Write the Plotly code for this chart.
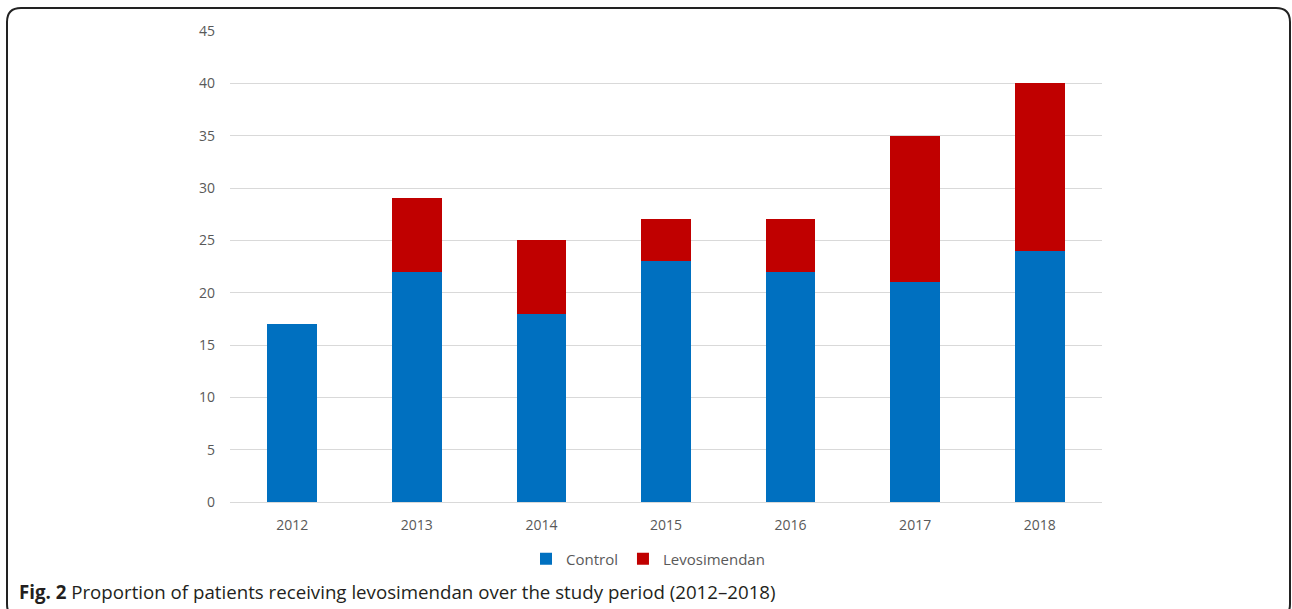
import plotly.graph_objects as go

years = ["2012", "2013", "2014", "2015", "2016", "2017", "2018"]
control = [17, 22, 18, 23, 22, 21, 24]
levosimendan = [0, 7, 7, 4, 5, 14, 16]
y_ticks = [0, 5, 10, 15, 20, 25, 30, 35, 40, 45]

W, H = 1292, 609
# plot area in screen pixels
L, R, T, B = 230, 1102, 31, 502

def px(X):
    return (X - L) / (R - L)

def py(Y):
    return (B - Y) / (B - T)

fig = go.Figure()
fig.add_trace(go.Bar(x=years, y=control, name="Control", marker=dict(color="#0070C0", line=dict(width=0))))
fig.add_trace(go.Bar(x=years, y=levosimendan, name="Levosimendan", marker=dict(color="#C00000", line=dict(width=0))))

# rounded border box (screen pixels)
x0, x1, y0, y1, r = 7, 1290, 8, 618, 14
path = (f"M {px(x0+r)},{py(y0)} L {px(x1-r)},{py(y0)} Q {px(x1)},{py(y0)} {px(x1)},{py(y0+r)} "
        f"L {px(x1)},{py(y1-r)} Q {px(x1)},{py(y1)} {px(x1-r)},{py(y1)} "
        f"L {px(x0+r)},{py(y1)} Q {px(x0)},{py(y1)} {px(x0)},{py(y1-r)} "
        f"L {px(x0)},{py(y0+r)} Q {px(x0)},{py(y0)} {px(x0+r)},{py(y0)} Z")
fig.add_shape(type="path", path=path, xref="paper", yref="paper",
              line=dict(color="#222222", width=2), fillcolor="rgba(0,0,0,0)", layer="above")

fig.add_annotation(x=px(17), y=py(591), xref="paper", yref="paper", xanchor="left", yanchor="middle",
                   text="<b>Fig. 2</b> Proportion of patients receiving levosimendan over the study period (2012–2018)",
                   showarrow=False, font=dict(family="Open Sans", size=18.7, color="#231f20"))

fig.update_layout(
    width=W, height=H,
    margin=dict(l=L, r=W - R, t=T, b=H - B, autoexpand=False),
    barmode="stack", bargap=0.6,
    plot_bgcolor="white", paper_bgcolor="white",
    font=dict(family="Open Sans", size=14, color="#595959"),
    legend=dict(orientation="h", x=px(648), xanchor="center", y=py(559), yanchor="middle",
                font=dict(family="Open Sans", size=15, color="#595959"), itemwidth=30,
                traceorder="normal", itemclick=False),
    xaxis=dict(showgrid=False, showline=True, linecolor="#d9d9d9", linewidth=1, ticks="",
               tickfont=dict(size=14, color="#595959"), ticklabelstandoff=10),
    yaxis=dict(range=[0, 45], tickvals=y_ticks, showgrid=True, gridcolor="#d9d9d9", gridwidth=1,
               zeroline=False, ticks="", tickfont=dict(size=14, color="#595959"), ticklabelstandoff=14),
)

fig.write_html(
    "out.html",
    config={"displayModeBar": False},
    post_script="document.body.style.margin='0';document.body.style.overflow='hidden';"
                "document.documentElement.style.overflow='hidden';",
)
